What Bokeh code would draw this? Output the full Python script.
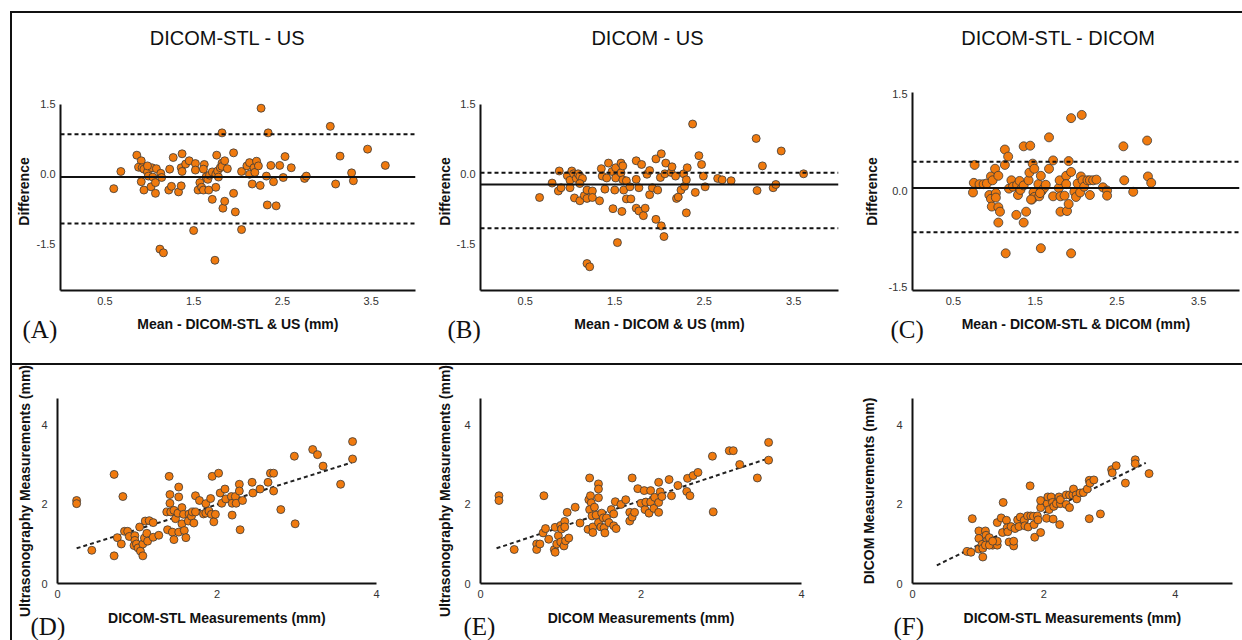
from bokeh.plotting import figure
from bokeh.layouts import column, row
from bokeh.models import Span, Label, FixedTicker, Range1d, Div
from bokeh.embed import file_html
from bokeh.resources import INLINE

# ---------------- data ----------------
titles = ["DICOM-STL - US", "DICOM - US", "DICOM-STL - DICOM"]
ba_xlabels = ["Mean - DICOM-STL & US (mm)", "Mean - DICOM & US (mm)", "Mean - DICOM-STL & DICOM (mm)"]
ba_ylabel = "Difference"
sc_xlabels = ["DICOM-STL Measurements (mm)", "DICOM Measurements (mm)", "DICOM-STL Measurements (mm)"]
sc_ylabels = ["Ultrasonography Measurements (mm)", "Ultrasonography Measurements (mm)", "DICOM Measurements (mm)"]
panel_tags = ["(A)", "(B)", "(C)", "(D)", "(E)", "(F)"]

ba_xticks = [0.5, 1.5, 2.5, 3.5]
ba_yticks = [-1.5, 0.0, 1.5]
ba_ytick_text = ["-1.5", "0.0", "1.5"]
sc_ticks = [0, 2, 4]

# (A) DICOM-STL vs US
a_mean = [0.60, 0.68, 0.86, 0.91, 0.88, 0.92, 0.94, 0.91, 0.94, 0.98,
          0.99, 1.03, 1.04, 1.02, 1.07, 1.07, 1.08, 1.13, 1.14, 1.12,
          1.16, 1.22, 1.23, 1.25, 1.27, 1.33, 1.36, 1.36, 1.37, 1.37,
          1.41, 1.45, 1.50, 1.52, 1.52, 1.57, 1.55, 1.59, 1.61, 1.62,
          1.61, 1.64, 1.66, 1.67, 1.68, 1.71, 1.71, 1.74, 1.75, 1.76,
          1.75, 1.77, 1.78, 1.80, 1.82, 1.82, 1.82, 1.83, 1.85, 1.85,
          1.88, 1.95, 1.95, 1.97, 2.04, 2.04, 2.10, 2.13, 2.13, 2.16,
          2.18, 2.19, 2.21, 2.23, 2.26, 2.25, 2.32, 2.34, 2.33, 2.37,
          2.40, 2.43, 2.47, 2.51, 2.53, 2.60, 2.75, 2.77, 3.04, 3.10,
          3.15, 3.28, 3.30, 3.46, 3.66, 0.98]
a_diff = [-0.31, 0.06, 0.41, 0.29, 0.15, 0.14, 0.11, -0.16, -0.34, 0.05,
          -0.04, 0.14, -0.06, -0.27, -0.18, -0.41, 0.12, 0.02, -0.07, -1.61,
          -1.69, -0.34, 0.11, -0.26, 0.36, -0.38, -0.25, 0.14, 0.06, 0.44,
          0.22, 0.29, -1.21, 0.23, 0.09, -0.18, -0.34, -0.28, -0.34, 0.21,
          0.11, -0.06, -0.11, -0.34, -0.02, 0.05, -0.54, -1.85, -0.28, 0.41,
          0.00, 0.07, -0.06, 0.14, 0.89, 0.24, 0.17, -0.73, -0.58, 0.29,
          0.12, 0.46, -0.41, -0.81, -1.19, 0.06, 0.18, 0.00, 0.25, -0.21,
          0.14, 0.04, 0.28, 0.18, 1.42, -0.24, -0.04, 0.89, -0.66, 0.19,
          -0.16, -0.68, 0.19, -0.07, 0.38, 0.14, -0.09, -0.04, 1.03, -0.21,
          0.39, 0.03, -0.14, 0.54, 0.19, 0.18]
a_lines = [-0.06, 0.86, -1.06]   # bias, upper LoA, lower LoA

# (B) DICOM vs US
b_mean = [0.66, 0.80, 0.88, 0.87, 0.90, 0.97, 1.00, 1.00, 1.02, 1.04,
          1.07, 1.09, 1.11, 1.14, 1.11, 1.05, 1.11, 1.16, 1.19, 1.19,
          1.25, 1.25, 1.19, 1.22, 1.33, 1.35, 1.36, 1.39, 1.41, 1.43,
          1.47, 1.48, 1.50, 1.51, 1.51, 1.53, 1.57, 1.57, 1.59, 1.58,
          1.59, 1.60, 1.63, 1.63, 1.68, 1.67, 1.74, 1.74, 1.74, 1.77,
          1.77, 1.80, 1.82, 1.84, 1.86, 1.89, 1.89, 1.92, 1.96, 1.96,
          1.98, 2.01, 2.02, 2.02, 2.05, 2.06, 2.07, 2.13, 2.14, 2.18,
          2.19, 2.21, 2.24, 2.27, 2.28, 2.30, 2.31, 2.30, 2.37, 2.40,
          2.44, 2.47, 2.49, 2.51, 2.65, 2.70, 2.80, 3.08, 3.09, 3.15,
          3.27, 3.30, 3.36, 3.61]
b_diff = [-0.50, -0.19, 0.07, -0.36, -0.29, -0.03, -0.13, -0.29, 0.07, 0.01,
          -0.09, 0.01, -0.04, -0.09, -0.20, -0.51, -0.57, -0.46, -0.34, -0.52,
          -0.36, -0.50, -1.92, -1.99, -0.57, 0.12, -0.04, -0.32, -0.08, 0.24,
          0.06, -0.74, -0.34, 0.14, -0.08, -1.47, 0.24, 0.03, 0.18, -0.80,
          -0.12, -0.34, -0.14, -0.53, -0.53, -0.27, 0.29, -0.11, -0.73, -0.29,
          -0.79, 0.21, -0.89, -0.73, 0.00, 0.08, -0.44, -0.29, 0.33, -0.97,
          -0.34, -0.07, 0.44, -1.11, -1.34, 0.01, 0.24, 0.04, 0.16, -0.04,
          -0.52, -0.49, -0.34, 0.01, -0.26, -0.12, 0.14, -0.83, 1.08, -0.39,
          0.40, 0.21, -0.04, -0.27, -0.09, -0.12, -0.14, 0.77, -0.35, 0.18,
          -0.29, -0.22, 0.50, 0.01]
b_lines = [-0.22, 0.03, -1.16]

# (C) DICOM-STL vs DICOM
c_mean = [0.74, 0.75, 0.76, 0.82, 0.87, 0.91, 0.96, 0.98, 1.01, 1.05,
          0.94, 0.96, 1.02, 1.02, 0.97, 1.05, 1.07, 1.05, 1.13, 1.17,
          1.13, 1.14, 1.18, 1.21, 1.23, 1.27, 1.28, 1.29, 1.31, 1.32,
          1.36, 1.36, 1.36, 1.39, 1.42, 1.44, 1.43, 1.46, 1.47, 1.48,
          1.49, 1.49, 1.54, 1.55, 1.57, 1.57, 1.58, 1.61, 1.63, 1.67,
          1.67, 1.72, 1.72, 1.79, 1.80, 1.81, 1.81, 1.86, 1.88, 1.89,
          1.88, 1.91, 1.91, 1.94, 1.94, 1.94, 1.98, 2.00, 2.02, 2.05,
          2.06, 2.07, 2.08, 2.10, 2.14, 2.17, 2.17, 2.21, 2.25, 2.33,
          2.38, 2.38, 2.58, 2.59, 2.70, 2.87, 2.88, 2.92, 1.45, 1.56]
c_diff = [-0.03, 0.12, 0.40, 0.10, 0.10, 0.11, 0.22, 0.16, 0.34, 0.23,
          -0.07, -0.13, -0.04, -0.11, -0.25, -0.26, -0.33, -0.50, 0.64, 0.53,
          0.40, -0.98, 0.03, 0.16, 0.06, -0.38, 0.09, -0.07, 0.15, 0.01,
          0.08, -0.50, 0.69, -0.33, 0.16, 0.70, 0.28, -0.14, 0.42, -0.03,
          0.34, -0.10, 0.10, -0.09, -0.90, 0.23, -0.01, 0.04, 0.09, 0.83,
          0.34, 0.47, -0.09, 0.04, 0.16, -0.09, -0.33, -0.08, 0.23, -0.32,
          0.10, 0.46, -0.21, 1.13, 0.29, -0.98, -0.02, -0.10, 0.11, -0.03,
          0.22, 1.18, 0.16, 0.06, 0.16, 0.16, -0.07, 0.16, 0.17, 0.05,
          0.00, -0.08, 0.69, 0.16, -0.02, 0.78, 0.22, 0.12, -0.14, -0.04]
c_lines = [0.04, 0.45, -0.65]

# (D) DICOM-STL (x) vs US (y)
d_x = [0.24, 0.24, 0.43, 0.71, 0.71, 0.75, 0.80, 0.82, 0.84, 0.88,
       0.90, 0.97, 0.97, 0.96, 0.99, 1.01, 1.04, 1.07, 1.07, 1.09,
       1.03, 1.10, 1.15, 1.12, 1.13, 1.20, 1.20, 1.27, 1.38, 1.37,
       1.40, 1.41, 1.41, 1.42, 1.44, 1.46, 1.46, 1.48, 1.51, 1.52,
       1.52, 1.52, 1.56, 1.56, 1.58, 1.59, 1.61, 1.64, 1.65, 1.68,
       1.69, 1.71, 1.73, 1.73, 1.78, 1.83, 1.86, 1.86, 1.90, 1.92,
       1.93, 1.94, 1.96, 1.98, 2.02, 2.04, 2.06, 2.10, 2.11, 2.18,
       2.19, 2.19, 2.23, 2.24, 2.28, 2.28, 2.29, 2.32, 2.44, 2.45,
       2.54, 2.64, 2.67, 2.71, 2.71, 2.80, 2.97, 2.98, 3.20, 3.26,
       3.33, 3.55, 3.70, 3.70]
d_y = [2.10, 2.02, 0.84, 2.76, 0.70, 1.16, 1.00, 2.20, 1.32, 1.32,
       1.19, 1.21, 1.09, 0.96, 1.00, 0.90, 0.82, 0.70, 1.00, 1.15,
       1.43, 1.58, 1.59, 1.27, 1.07, 1.17, 1.54, 1.22, 1.36, 1.81,
       2.71, 2.25, 2.03, 1.81, 1.30, 1.85, 1.11, 1.64, 1.78, 2.44,
       2.19, 1.30, 1.92, 1.51, 1.75, 1.34, 1.16, 1.58, 1.76, 1.70,
       1.81, 1.53, 2.22, 1.81, 2.10, 1.76, 2.02, 1.78, 1.83, 2.15,
       1.75, 2.71, 1.56, 1.75, 2.79, 2.29, 2.03, 2.39, 2.14, 2.20,
       2.03, 1.73, 2.20, 2.03, 2.51, 2.34, 1.36, 2.10, 2.56, 2.29,
       2.39, 2.56, 2.79, 2.79, 2.34, 1.87, 3.22, 1.51, 3.39, 3.26,
       2.97, 2.51, 3.59, 3.15]
d_fit_x = [0.24, 3.69]
d_fit_y = [0.89, 3.06]

# (E) DICOM (x) vs US (y)
e_x = [0.23, 0.23, 0.42, 0.70, 0.70, 0.74, 0.79, 0.78, 0.81, 0.85,
       0.93, 0.92, 0.93, 0.95, 0.97, 1.00, 1.01, 1.05, 1.05, 1.00,
       1.04, 1.06, 1.10, 1.08, 1.18, 1.24, 1.34, 1.35, 1.36, 1.37,
       1.38, 1.36, 1.39, 1.40, 1.40, 1.42, 1.44, 1.47, 1.47, 1.47,
       1.47, 1.50, 1.51, 1.53, 1.54, 1.55, 1.57, 1.60, 1.63, 1.66,
       1.66, 1.68, 1.69, 1.75, 1.81, 1.86, 1.86, 1.89, 1.89, 1.92,
       1.96, 2.00, 2.04, 2.05, 2.06, 2.10, 2.12, 2.12, 2.16, 2.17,
       2.22, 2.22, 2.22, 2.24, 2.26, 2.35, 2.38, 2.46, 2.57, 2.58,
       2.61, 2.65, 2.71, 2.89, 2.90, 3.10, 3.15, 3.23, 3.45, 3.59,
       3.59]
e_y = [2.22, 2.10, 0.86, 1.00, 0.86, 1.00, 2.22, 1.28, 1.39, 1.12,
       1.42, 0.86, 0.79, 1.00, 1.21, 1.47, 1.38, 1.57, 1.43, 1.05,
       0.95, 1.08, 1.15, 1.80, 1.93, 1.53, 1.37, 2.12, 2.67, 2.22,
       2.04, 1.87, 1.71, 1.43, 1.29, 1.93, 1.73, 2.52, 2.39, 2.17,
       1.54, 1.43, 1.78, 1.66, 1.41, 1.28, 1.66, 1.54, 1.87, 1.76,
       1.46, 2.07, 1.39, 2.00, 2.12, 1.80, 1.58, 2.67, 1.68, 1.80,
       2.40, 2.03, 2.35, 1.87, 2.06, 1.78, 2.35, 2.06, 1.90, 2.18,
       2.56, 2.05, 1.80, 2.32, 2.20, 2.63, 2.22, 2.48, 2.33, 2.66,
       2.22, 2.73, 2.81, 3.22, 1.81, 3.36, 3.36, 3.01, 2.67, 3.57,
       3.12]
e_fit_x = [0.20, 3.58]
e_fit_y = [0.89, 3.16]

# (F) DICOM-STL (x) vs DICOM (y)
f_x = [0.83, 0.89, 0.91, 1.01, 1.01, 1.01, 1.06, 1.07, 1.07, 1.11,
       1.12, 1.14, 1.17, 1.22, 1.29, 1.29, 1.29, 1.35, 1.38, 1.37,
       1.43, 1.44, 1.45, 1.47, 1.50, 1.54, 1.54, 1.56, 1.60, 1.62,
       1.64, 1.70, 1.71, 1.75, 1.76, 1.79, 1.80, 1.84, 1.85, 1.86,
       1.90, 1.91, 1.95, 1.95, 1.95, 2.04, 2.05, 2.06, 2.08, 2.11,
       2.13, 2.14, 2.15, 2.19, 2.23, 2.24, 2.25, 2.25, 2.34, 2.34,
       2.39, 2.39, 2.44, 2.45, 2.49, 2.50, 2.55, 2.60, 2.66, 2.69,
       2.69, 2.70, 2.76, 2.86, 3.03, 3.04, 3.10, 3.24, 3.39, 3.39,
       3.60, 1.11, 1.17, 1.22]
f_y = [0.81, 0.79, 1.64, 1.33, 1.14, 0.87, 0.99, 0.67, 0.89, 1.33,
       1.22, 1.09, 1.16, 0.97, 0.97, 1.07, 1.54, 1.66, 2.05, 1.29,
       1.60, 1.41, 1.31, 1.05, 1.44, 0.95, 1.07, 1.39, 1.61, 1.44,
       1.68, 1.60, 1.46, 1.71, 1.43, 2.47, 1.71, 1.70, 1.49, 1.17,
       1.71, 1.61, 1.29, 1.92, 2.10, 1.65, 2.02, 2.19, 1.87, 2.19,
       2.05, 1.63, 1.95, 2.02, 2.19, 1.49, 2.02, 2.12, 2.24, 2.00,
       1.92, 2.24, 2.24, 2.39, 2.24, 2.14, 2.29, 2.30, 2.39, 2.61,
       1.64, 2.54, 2.62, 1.76, 2.88, 2.80, 2.98, 2.54, 3.13, 3.03,
       2.78, 0.97, 0.97, 1.07]
f_fit_x = [0.37, 3.55]
f_fit_y = [0.46, 3.05]

# ---------------- styling ----------------
FONT = "Liberation Sans"
SERIF = "Liberation Serif"
FILL = "#f07a0e"
EDGE = "#3a3a3a"
INK = "#111111"


def make_fig(w, h, lb, rb, tb, bb, xr, yr):
    p = figure(width=w, height=h, x_range=Range1d(*xr), y_range=Range1d(*yr),
               output_backend="svg", toolbar_location=None, tools="",
               min_border_left=lb, min_border_right=rb,
               min_border_top=tb, min_border_bottom=bb)
    p.outline_line_color = None
    p.grid.visible = False
    p.background_fill_color = "white"
    p.border_fill_color = "white"
    for ax in (p.xaxis[0], p.yaxis[0]):
        ax.axis_line_width = 2
        ax.axis_line_color = INK
        ax.major_tick_line_color = None
        ax.minor_tick_line_color = None
        ax.major_tick_out = 0
        ax.major_tick_in = 0
        ax.minor_tick_out = 0
        ax.major_label_text_font = FONT
        ax.major_label_text_font_size = "11px"
        ax.major_label_text_color = "#333333"
        ax.axis_label_text_font = FONT
        ax.axis_label_text_font_size = "14px"
        ax.axis_label_text_font_style = "bold"
        ax.axis_label_text_color = INK
    return p


def side_label(p, text, sx, sy, size, font, align="center"):
    # placed in the top side panel: x from frame left, y upward from panel bottom
    p.add_layout(Label(x=sx, y=sy, x_units="screen", y_units="screen", text=text,
                       text_font=font, text_font_size=size, text_color=INK,
                       text_align=align, text_baseline="middle"), "above")


def ba_panel(w, lb, rb, yr, ybounds, xs, ys, lines, title, xlabel, tag, size,
             title_sx, tag_sx, ystand):
    p = make_fig(w, 350, lb, rb, 79, 73, (0, 4), yr)
    p.xaxis.ticker = FixedTicker(ticks=ba_xticks)
    p.yaxis.ticker = FixedTicker(ticks=ba_yticks)
    p.yaxis.bounds = ybounds
    p.yaxis.major_label_overrides = {t: s for t, s in zip(ba_yticks, ba_ytick_text)}
    p.xaxis.major_label_standoff = 6
    p.yaxis.major_label_standoff = 5
    p.xaxis.axis_label = xlabel
    p.yaxis.axis_label = ba_ylabel
    p.xaxis.axis_label_standoff = 8
    p.yaxis.axis_label_standoff = ystand
    p.add_layout(Span(location=lines[0], dimension="width", line_color=INK, line_width=2))
    for v in lines[1:]:
        p.add_layout(Span(location=v, dimension="width", line_color=INK, line_width=2,
                          line_dash="4 3"))
    p.scatter(xs, ys, size=size, fill_color=FILL, line_color=EDGE, line_width=0.8)
    side_label(p, title, title_sx, 55, "20px", FONT)
    side_label(p, tag, tag_sx, -259, "25px", SERIF, align="left")
    return p


def sc_panel(w, lb, rb, xr, xs, ys, fx, fy, xlabel, ylabel, tag, tag_sx, ystand):
    p = make_fig(w, 275, lb, rb, 33, 57, xr, (0, 4.68))
    p.xaxis.ticker = FixedTicker(ticks=sc_ticks)
    p.yaxis.ticker = FixedTicker(ticks=sc_ticks)
    p.xaxis.major_label_standoff = 6
    p.yaxis.major_label_standoff = 10
    p.xaxis.axis_label = xlabel
    p.yaxis.axis_label = ylabel
    p.xaxis.axis_label_standoff = 9
    p.yaxis.axis_label_standoff = ystand
    p.line(fx, fy, line_color="#222222", line_width=2, line_dash="4 3")
    p.scatter(xs, ys, size=8, fill_color=FILL, line_color=EDGE, line_width=0.8)
    side_label(p, tag, tag_sx, -228, "25px", SERIF, align="left")
    return p


pA = ba_panel(408, 44, 5, (-2.5, 1.758), (-2.5, 1.5), a_mean, a_diff, a_lines, titles[0],
              ba_xlabels[0], panel_tags[0], 8, 167, -38, 2)
pB = ba_panel(420, 60, 2, (-2.5, 1.758), (-2.5, 1.5), b_mean, b_diff, b_lines, titles[1],
              ba_xlabels[1], panel_tags[1], 8, 167, -33, 1)
pC = ba_panel(402, 72, 3, (-1.56, 1.53), (-1.56, 1.53), c_mean, c_diff, c_lines, titles[2],
              ba_xlabels[2], panel_tags[2], 9, 146, -22, 6)

pD = sc_panel(408, 45, 44, (0, 4), d_x, d_y, d_fit_x, d_fit_y, sc_xlabels[0], sc_ylabels[0],
              panel_tags[3], -27, 5)
pE = sc_panel(420, 60, 39, (0, 4), e_x, e_y, e_fit_x, e_fit_y, sc_xlabels[1], sc_ylabels[1],
              panel_tags[4], -17, 8)
pF = sc_panel(402, 72, 10, (0, 4.87), f_x, f_y, f_fit_x, f_fit_y, sc_xlabels[2], sc_ylabels[2],
              panel_tags[5], -19, 16)

divider = Div(text="", width=1230, height=2, margin=0,
              styles={"background-color": INK})

layout = column(row(pA, pB, pC), divider, row(pD, pE, pF), margin=(11, 0, 0, 10),
                styles={"border-left": "2px solid #111111", "border-top": "2px solid #111111"})

open("out.html", "w").write(file_html(layout, INLINE))
